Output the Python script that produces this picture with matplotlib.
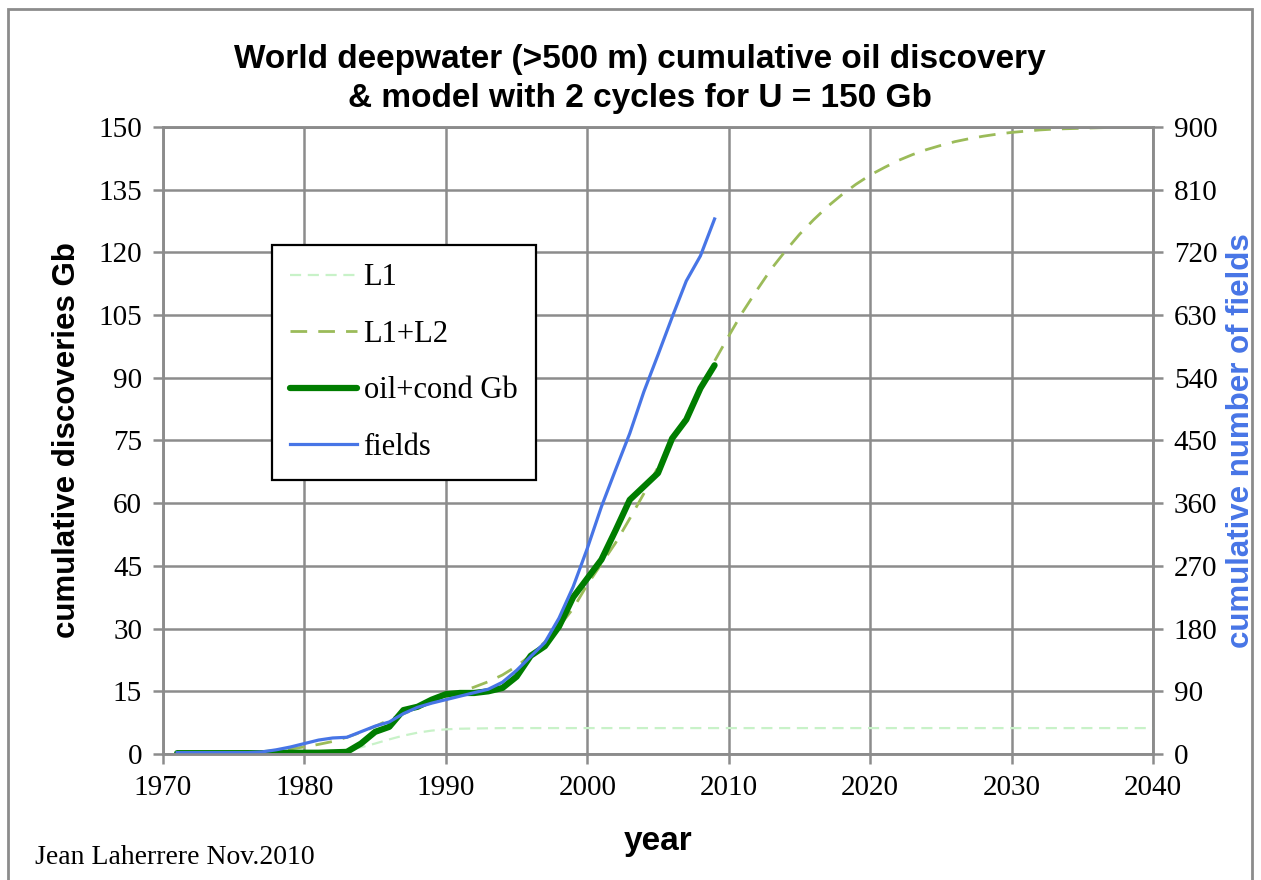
import matplotlib
matplotlib.use("Agg")
import matplotlib.pyplot as plt
from matplotlib.patches import Rectangle

# observed discoveries, 1971-2009
obs_years = [1971, 1972, 1973, 1974, 1975, 1976, 1977, 1978, 1979, 1980,
             1981, 1982, 1983, 1984, 1985, 1986, 1987, 1988, 1989, 1990,
             1991, 1992, 1993, 1994, 1995, 1996, 1997, 1998, 1999, 2000,
             2001, 2002, 2003, 2004, 2005, 2006, 2007, 2008, 2009]
oil_cond_gb = [0.2, 0.2, 0.2, 0.2, 0.2, 0.2, 0.2, 0.3, 0.3, 0.3,
               0.3, 0.4, 0.5, 2.5, 5.3, 6.5, 10.5, 11.3, 13.0, 14.3,
               14.6, 14.6, 15.0, 15.8, 18.5, 23.5, 25.8, 30.5, 37.5, 42.0,
               46.5, 53.5, 60.8, 64.0, 67.2, 75.5, 80.0, 87.5, 93.0]
fields = [2, 2, 2, 2, 2, 2, 3, 6, 10, 15,
          20, 23, 24, 32, 40, 46, 58, 67, 73, 78,
          83, 88, 93, 103, 120, 140, 160, 195, 240, 295,
          355, 408, 460, 520, 573, 627, 679, 715, 768]

# two-cycle model, 1971-2040
model_years = list(range(1971, 2041))
l1 = [0.0, 0.0, 0.0, 0.0, 0.02, 0.04, 0.06, 0.1, 0.15, 0.25,
      0.4, 0.65, 1.0, 1.6, 2.5, 3.5, 4.4, 5.1, 5.6, 5.9,
      6.05, 6.1, 6.15, 6.2, 6.2, 6.2, 6.2, 6.2, 6.2, 6.2,
      6.2, 6.2, 6.2, 6.2, 6.2, 6.2, 6.2, 6.2, 6.2, 6.2,
      6.2, 6.2, 6.2, 6.2, 6.2, 6.2, 6.2, 6.2, 6.2, 6.2,
      6.2, 6.2, 6.2, 6.2, 6.2, 6.2, 6.2, 6.2, 6.2, 6.2,
      6.2, 6.2, 6.2, 6.2, 6.2, 6.2, 6.2, 6.2, 6.2, 6.2]
l1_l2 = [0.0, 0.05, 0.1, 0.15, 0.25, 0.35, 0.5, 0.8, 1.2, 1.7,
         2.3, 3.0, 4.0, 5.2, 6.6, 8.2, 9.6, 11.0, 12.3, 13.6,
         14.8, 16.0, 17.3, 18.9, 21.0, 23.6, 26.8, 30.5, 34.8, 40.5,
         45.5, 50.5, 56.3, 62.3, 68.6, 74.8, 81.0, 87.5, 94.0, 100.0,
         105.8, 111.0, 116.0, 120.3, 124.3, 127.8, 131.0, 133.8, 136.3, 138.5,
         140.3, 142.0, 143.4, 144.6, 145.6, 146.5, 147.2, 147.8, 148.3, 148.7,
         149.0, 149.3, 149.5, 149.6, 149.7, 149.8, 149.9, 149.9, 150.0, 150.0]

left_ticks = [0, 15, 30, 45, 60, 75, 90, 105, 120, 135, 150]
right_ticks = [0, 90, 180, 270, 360, 450, 540, 630, 720, 810, 900]
year_ticks = [1970, 1980, 1990, 2000, 2010, 2020, 2030, 2040]

SERIF = "Liberation Serif"
SANS = ["Liberation Sans", "DejaVu Sans"]
GRID = "#8c8c8c"
BLUE = "#4775e6"

fig = plt.figure(figsize=(12.61, 8.8), dpi=100)
ax = fig.add_axes([163 / 1261, 1 - 754 / 880, 990 / 1261, 627 / 880])
ax2 = ax.twinx()

h_l1, = ax.plot(model_years, l1, color="#c8f2c8", lw=1.6, dashes=(5, 3), label="L1")
h_l12, = ax.plot(model_years, l1_l2, color="#9bbb59", lw=2.0, dashes=(6, 4), label="L1+L2")
h_oil, = ax.plot(obs_years, oil_cond_gb, color="#007d00", lw=4.5,
                 solid_capstyle="round", label="oil+cond Gb")
h_fld, = ax2.plot(obs_years, fields, color=BLUE, lw=2.3, label="fields")

ax.set_xlim(1970, 2040)
ax.set_ylim(0, 150)
ax2.set_ylim(0, 900)
ax.set_xticks(year_ticks)
ax.set_yticks(left_ticks)
ax2.set_yticks(right_ticks)
ax.grid(True, color=GRID, lw=1.8)
ax.set_axisbelow(True)

for a in (ax, ax2):
    for s in a.spines.values():
        s.set_color(GRID)
        s.set_linewidth(1.8)
    a.tick_params(length=7, width=1.8, color=GRID, labelsize=21, pad=8)
    for lab in a.get_xticklabels() + a.get_yticklabels():
        lab.set_family(SERIF)

ax.set_ylabel("cumulative discoveries Gb", family=SANS, fontweight="bold",
              fontsize=22.5, labelpad=12)
ax2.set_ylabel("cumulative number of fields", family=SANS, fontweight="bold",
               fontsize=22.5, color=BLUE, labelpad=6)
ax.set_xlabel("year", family=SANS, fontweight="bold", fontsize=24, labelpad=18)

leg = ax2.legend(handles=[h_l1, h_l12, h_oil, h_fld], loc="upper left",
                 bbox_to_anchor=(0.110, 0.812), borderaxespad=0,
                 prop={"family": SERIF, "size": 22},
                 frameon=True, fancybox=False, framealpha=1, edgecolor="black",
                 handlelength=2.2, labelspacing=0.9, borderpad=0.6, handletextpad=0.2)
leg.get_frame().set_linewidth(1.6)

fig.text(640 / 1261, 1 - 44 / 880,
         "World deepwater (>500 m) cumulative oil discovery\n& model with 2 cycles for U = 150 Gb",
         ha="center", va="top", family=SANS, fontweight="bold", fontsize=24,
         linespacing=1.35)
fig.text(35 / 1261, 1 - 857 / 880, "Jean Laherrere Nov.2010", ha="left", va="center",
         family=SERIF, fontsize=20)

# page frame around the chart
fig.patches.append(Rectangle((8 / 1261, -0.01), 1244 / 1261, 1 - 9 / 880 + 0.01,
                             transform=fig.transFigure, fill=False,
                             edgecolor="#8c8c8c", lw=2))

fig.savefig("out.png", dpi=100, facecolor="white")
